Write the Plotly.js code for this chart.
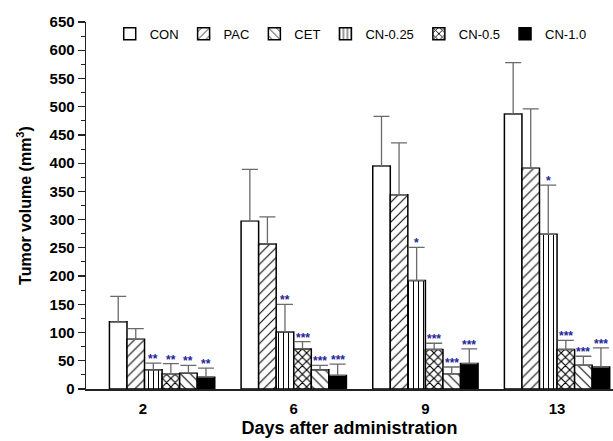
<!DOCTYPE html>
<html>
<head>
<meta charset="utf-8">
<script src="https://cdn.plot.ly/plotly-3.0.1.min.js"></script>
<style>html,body{margin:0;padding:0;background:#fff;}#chart{width:613px;height:441px;}</style>
</head>
<body>
<div id="chart"></div>
<script>
// Days (x categories)
const days = ['2', '6', '9', '13'];

// Mean tumor volumes (mm^3)
const CON    = [119, 297, 395, 487];
const PAC    = [88, 257, 344, 391];
const CN025  = [34, 101, 192, 274];
const CN05   = [27, 71, 70, 70];
const CET    = [28, 34, 27, 42];
const CN10   = [21, 24, 45, 39];

// Upper error (SD)
const CON_err   = [45, 92, 88, 91];
const PAC_err   = [19, 48, 92, 105];
const CN025_err = [12, 49, 59, 87];
const CN05_err  = [18, 13, 11, 16];
const CET_err   = [14, 8, 12, 16];
const CN10_err  = [16, 20, 26, 34];

// Significance marks
const CON_sig   = ['', '', '', ''];
const PAC_sig   = ['', '', '', ''];
const CN025_sig = ['**', '**', '*', '*'];
const CN05_sig  = ['**', '***', '***', '***'];
const CET_sig   = ['**', '***', '***', '***'];
const CN10_sig  = ['**', '***', '***', '***'];

// Bars in drawing order within each group; legendrank gives legend order
const series = [
  {name: 'CON',     y: CON,   e: CON_err,   s: CON_sig,   shape: '',   size: 7, sol: 0.15, fill: 'white', rank: 1},
  {name: 'PAC',     y: PAC,   e: PAC_err,   s: PAC_sig,   shape: '/',  size: 7, sol: 0.15, fill: 'white', rank: 2},
  {name: 'CN-0.25', y: CN025, e: CN025_err, s: CN025_sig, shape: '|',  size: 5, sol: 0.2,  fill: 'white', rank: 4},
  {name: 'CN-0.5',  y: CN05,  e: CN05_err,  s: CN05_sig,  shape: 'x',  size: 6, sol: 0.35, fill: 'white', rank: 5},
  {name: 'CET',     y: CET,   e: CET_err,   s: CET_sig,   shape: '\\', size: 7, sol: 0.15, fill: 'white', rank: 3},
  {name: 'CN-1.0',  y: CN10,  e: CN10_err,  s: CN10_sig,  shape: '',   size: 7, sol: 0.15, fill: 'black', rank: 6}
];

const FONT = 'Liberation Sans, Arial, sans-serif';
const bargap = 0.2;
const idx = days.map((d, i) => i);
const barW = (1 - bargap) / series.length;

const traces = series.map(s => ({
  type: 'bar',
  name: s.name,
  x: idx,
  y: s.y,
  legendrank: s.rank,
  marker: {
    color: s.fill,
    line: {color: 'black', width: 1.5},
    pattern: s.shape ? {shape: s.shape, fgcolor: 'black', bgcolor: 'white', size: s.size, solidity: s.sol, fillmode: 'replace'} : undefined
  },
  error_y: {
    type: 'data', symmetric: false, array: s.e, arrayminus: s.e.map(() => 0),
    color: '#6a6a6a', thickness: 1.3, width: 8
  }
}));

const annotations = [];
series.forEach((s, k) => {
  s.s.forEach((txt, i) => {
    if (!txt) return;
    annotations.push({
      x: i + (k - (series.length - 1) / 2) * barW,
      y: s.y[i] + s.e[i],
      xref: 'x', yref: 'y',
      text: '<b>' + txt + '</b>', showarrow: false,
      xanchor: 'center', yanchor: 'bottom', yshift: -5,
      font: {family: FONT, size: 12, color: '#23239a'}
    });
  });
});

// tick positions: first label sits slightly left in the reference
const tickPos = idx.map(i => i === 0 ? i - 0.145 : i);

const layout = {
  width: 613, height: 441,
  margin: {l: 86, r: 0, t: 22, b: 52},
  paper_bgcolor: 'white', plot_bgcolor: 'white',
  barmode: 'group', bargap: bargap, bargroupgap: 0,
  font: {family: FONT, color: 'black'},
  showlegend: true,
  legend: {
    orientation: 'h', x: 0.045, xanchor: 'left', y: 0.968, yanchor: 'middle',
    font: {family: FONT, size: 13, color: 'black'}, bgcolor: 'rgba(0,0,0,0)',
    itemwidth: 30, traceorder: 'normal'
  },
  xaxis: {
    type: 'linear', range: [-0.578, 3.425],
    tickvals: tickPos, ticktext: days,
    showgrid: false, zeroline: false, showline: true, linecolor: '#222', linewidth: 1.6,
    ticks: '', ticklabelstandoff: 5, tickfont: {family: FONT, size: 15, weight: 'bold'},
    title: {text: '<b>Days after administration</b>', font: {family: FONT, size: 18}, standoff: 6}
  },
  yaxis: {
    range: [0, 650], dtick: 50, tick0: 0,
    showgrid: false, zeroline: false, showline: true, linecolor: '#222', linewidth: 1.4,
    ticks: 'outside', ticklen: 7, tickwidth: 1.2, tickcolor: '#222',
    minor: {dtick: 25, ticks: 'outside', ticklen: 4, tickwidth: 1, tickcolor: '#222'},
    tickfont: {family: FONT, size: 15, weight: 'bold'},
    title: {text: '<b>Tumor volume (mm<sup>3</sup>)</b>', font: {family: FONT, size: 16}, standoff: 14}
  },
  annotations: annotations
};

Plotly.newPlot('chart', traces, layout, {displayModeBar: false, staticPlot: true});
</script>
</body>
</html>
